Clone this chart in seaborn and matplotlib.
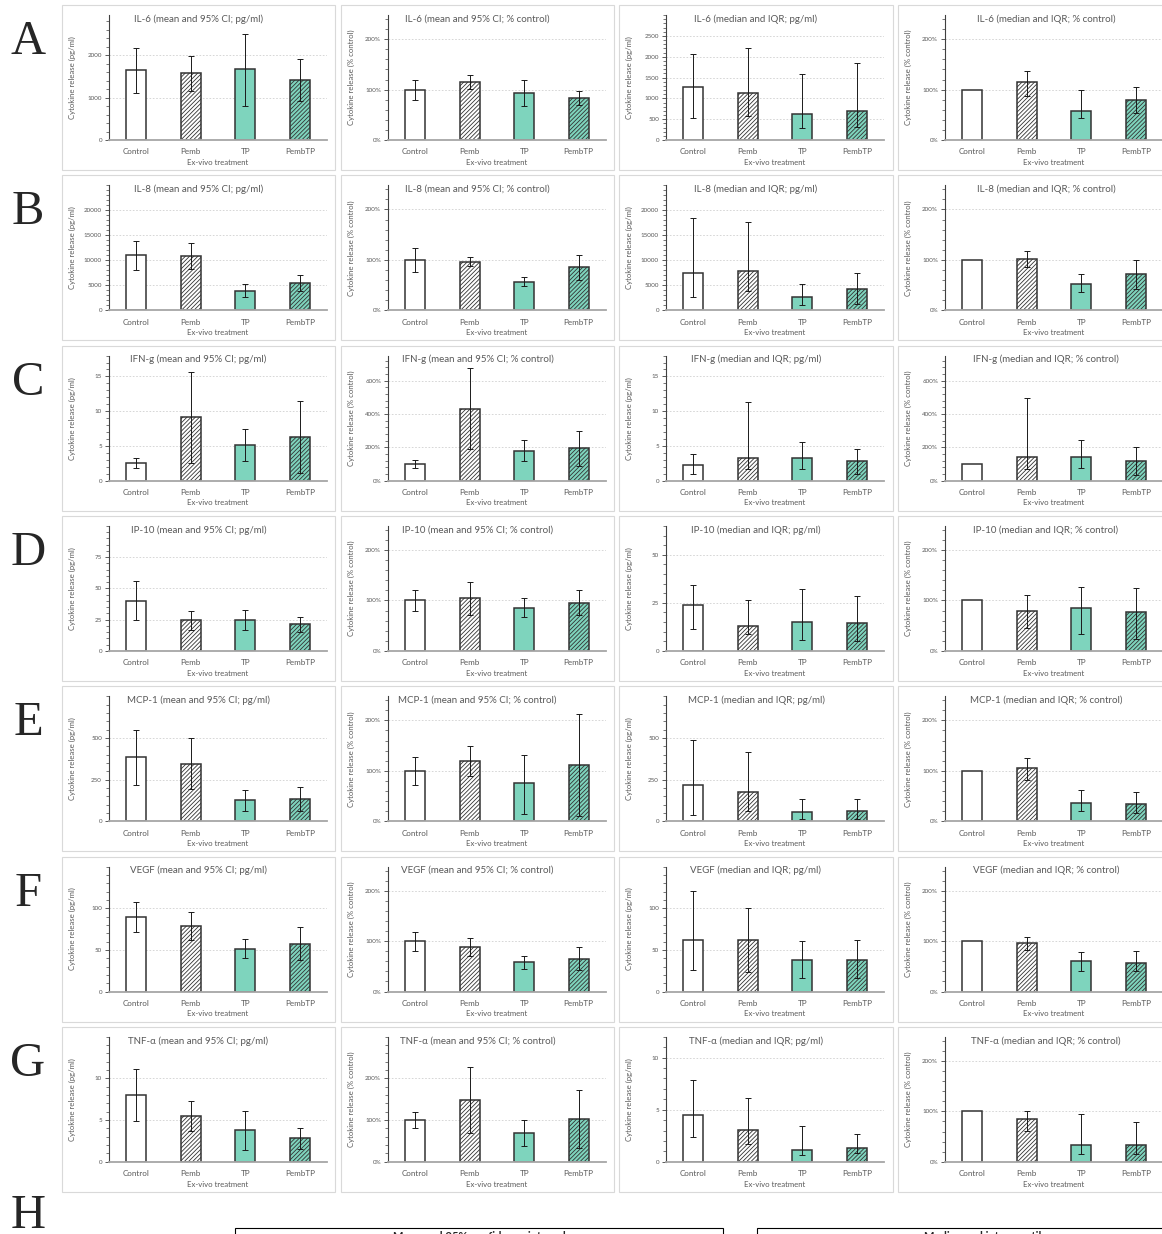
import numpy as np
import matplotlib
matplotlib.use("Agg")
import matplotlib.pyplot as plt
from matplotlib.patches import Rectangle
from matplotlib.ticker import AutoMinorLocator
import seaborn as sns

nan = float("nan")
treatments = ["Control", "Pemb", "TP", "PembTP"]

# each panel: [bar value, lower, upper]
il6_mean_pg = [[1650, 1580, 1680, 1420], [1100, 1150, 810, 920], [2180, 1990, 2500, 1900]]
il6_mean_pct = [[100, 115, 94, 84], [80, 102, 68, 70], [120, 128, 119, 97]]
il6_med_pg = [[1270, 1130, 620, 700], [520, 570, 280, 310], [2060, 2210, 1580, 1840]]
il6_med_pct = [[100, 115, 57, 80], [nan, 88, 44, 53], [nan, 136, 100, 105]]

il8_mean_pg = [[11000, 10800, 3900, 5400], [8100, 8200, 2600, 3900], [13800, 13400, 5200, 7000]]
il8_mean_pct = [[100, 96, 56, 85], [76, 88, 48, 60], [124, 105, 66, 109]]
il8_med_pg = [[7400, 7800, 2600, 4300], [2700, 3800, 1100, 1300], [18400, 17600, 5300, 7400]]
il8_med_pct = [[100, 102, 53, 73], [nan, 85, 36, 43], [nan, 117, 72, 99]]

ifng_mean_pg = [[2.5, 9.1, 5.1, 6.3], [1.8, 2.6, 2.8, 1.1], [3.3, 15.6, 7.5, 11.5]]
ifng_mean_pct = [[100, 432, 178, 195], [73, 190, 115, 88], [126, 675, 243, 297]]
ifng_med_pg = [[2.3, 3.3, 3.3, 2.8], [0.9, 1.6, 1.7, 0.9], [3.9, 11.3, 5.6, 4.6]]
ifng_med_pct = [[100, 142, 142, 120], [nan, 68, 73, 35], [nan, 495, 245, 202]]

ip10_mean_pg = [[40, 24.5, 24.5, 21.5], [25, 17, 17, 15.5], [56, 32, 33, 27.5]]
ip10_mean_pct = [[100, 104, 85, 95], [80, 72, 67, 71], [120, 137, 104, 120]]
ip10_med_pg = [[24, 13, 14.8, 14.5], [11.5, 9, 5.5, 5], [34.5, 26.5, 32, 28.5]]
ip10_med_pct = [[100, 79, 85, 78], [nan, 46, 34, 24], [nan, 110, 127, 124]]

mcp1_mean_pg = [[385, 345, 125, 135], [220, 195, 60, 63], [550, 497, 188, 208]]
mcp1_mean_pct = [[100, 120, 75, 111], [72, 89, 15, 10], [128, 150, 132, 212]]
mcp1_med_pg = [[215, 175, 58, 60], [38, 60, 15, 13], [485, 415, 135, 135]]
mcp1_med_pct = [[100, 105, 36, 34], [nan, 81, 20, 17], [nan, 125, 61, 58]]

vegf_mean_pg = [[89, 79, 51, 57], [71, 62, 40, 38], [107, 95, 63, 78]]
vegf_mean_pct = [[100, 89, 58, 65], [80, 70, 45, 42], [119, 107, 71, 88]]
vegf_med_pg = [[62, 62, 38, 38], [26, 23, 16, 16], [121, 100, 61, 62]]
vegf_med_pct = [[100, 96, 60, 57], [nan, 83, 40, 40], [nan, 109, 79, 81]]

tnfa_mean_pg = [[8.0, 5.5, 3.8, 2.8], [4.9, 3.7, 1.4, 1.5], [11.1, 7.3, 6.1, 4.1]]
tnfa_mean_pct = [[100, 148, 70, 102], [80, 68, 37, 32], [120, 228, 100, 172]]
tnfa_med_pg = [[4.5, 3.1, 1.1, 1.3], [2.4, 1.7, 0.7, 0.8], [7.9, 6.1, 3.4, 2.7]]
tnfa_med_pct = [[100, 84, 33, 33], [nan, 61, 16, 16], [nan, 100, 94, 78]]

pct_axis = ([0, 100, 200], 248)

# name, panel data, axis (ticks, top) for each panel
rows = [
    ("IL-6", [il6_mean_pg, il6_mean_pct, il6_med_pg, il6_med_pct],
     [([0, 1000, 2000], 2950), pct_axis, ([0, 500, 1000, 1500, 2000, 2500], 3000), pct_axis]),
    ("IL-8", [il8_mean_pg, il8_mean_pct, il8_med_pg, il8_med_pct],
     [([0, 5000, 10000, 15000, 20000], 25000), pct_axis, ([0, 5000, 10000, 15000, 20000], 25000), pct_axis]),
    ("IFN-g", [ifng_mean_pg, ifng_mean_pct, ifng_med_pg, ifng_med_pct],
     [([0, 5, 10, 15], 18), ([0, 200, 400, 600], 750), ([0, 5, 10, 15], 18), ([0, 200, 400, 600], 750)]),
    ("IP-10", [ip10_mean_pg, ip10_mean_pct, ip10_med_pg, ip10_med_pct],
     [([0, 25, 50, 75], 100), pct_axis, ([0, 25, 50], 65), pct_axis]),
    ("MCP-1", [mcp1_mean_pg, mcp1_mean_pct, mcp1_med_pg, mcp1_med_pct],
     [([0, 250, 500], 750), pct_axis, ([0, 250, 500], 750), pct_axis]),
    ("VEGF", [vegf_mean_pg, vegf_mean_pct, vegf_med_pg, vegf_med_pct],
     [([0, 50, 100], 150), pct_axis, ([0, 50, 100], 150), pct_axis]),
    ("TNF-α", [tnfa_mean_pg, tnfa_mean_pct, tnfa_med_pg, tnfa_med_pct],
     [([0, 5, 10], 15), ([0, 100, 200], 300), ([0, 5, 10], 12), pct_axis]),
]
letters = ["A", "B", "C", "D", "E", "F", "G"]
kinds = ["mean and 95% CI; pg/ml", "mean and 95% CI; % control",
         "median and IQR; pg/ml", "median and IQR; % control"]

sns.set_style("white")
plt.rcParams["font.family"] = ["Lato", "DejaVu Sans"]
plt.rcParams["hatch.linewidth"] = 0.6

teal = "#7ed4bd"
edge = "#333333"
grey = "#595959"
fills = ["white", "white", teal, teal]
hatches = ["", "////////", "", "////////"]

W, H = 1162, 1234
fig = plt.figure(figsize=(W / 100, H / 100), dpi=100)


def fx(px):
    return px / W


def fy(py):
    return 1 - py / H


col_left = [62, 341, 619, 898]
box_w = [273, 273, 274, 296]

for r, (name, panels, axes_spec) in enumerate(rows):
    top = 5 + r * 170.3
    fig.text(fx(28), fy(top + 37), letters[r], fontsize=35, family="Liberation Serif",
             ha="center", va="center")
    for c in range(4):
        left = col_left[c]
        fig.patches.append(Rectangle((fx(left), fy(top + 165)), fx(box_w[c]), 165 / H,
                                     transform=fig.transFigure, facecolor="white",
                                     edgecolor="#d9d9d9", lw=0.8, zorder=-1))
        ax = fig.add_axes([fx(left + 47), fy(top + 135), fx(218), 125 / H])
        ax.set_facecolor("none")
        vals, lo, hi = [np.array(a, dtype=float) for a in panels[c]]
        sns.barplot(x=treatments, y=vals, hue=treatments, palette=fills, ax=ax,
                    width=0.37, edgecolor=edge, linewidth=1.1, saturation=1, legend=False)
        for p, h in zip(ax.patches, hatches):
            p.set_hatch(h)
        ax.errorbar(np.arange(4), vals, yerr=[vals - lo, hi - vals], fmt="none",
                    ecolor="#1a1a1a", elinewidth=0.7, capsize=2, capthick=0.7)

        ticks, ytop = axes_spec[c]
        pct = c in (1, 3)
        ax.set_xlim(-0.5, 3.5)
        ax.set_ylim(0, ytop)
        ax.set_yticks(ticks)
        ax.set_yticklabels([f"{t}%" if pct else f"{t}" for t in ticks])
        ax.yaxis.set_minor_locator(AutoMinorLocator(5))
        ax.tick_params(axis="y", which="major", length=3, width=0.6, color="#404040",
                       labelsize=4.5, labelcolor=grey, pad=2, left=True)
        ax.tick_params(axis="y", which="minor", length=2, width=0.5, color="#404040", left=True)
        ax.tick_params(axis="x", length=0, labelsize=5.8, labelcolor=grey, pad=6)
        for s in ["top", "right"]:
            ax.spines[s].set_visible(False)
        ax.spines["left"].set_color("#404040")
        ax.spines["left"].set_linewidth(0.8)
        ax.spines["bottom"].set_color("#a6a6a6")
        ax.spines["bottom"].set_linewidth(1.3)
        ax.grid(axis="y", which="major", linestyle=(0, (2, 2)), color="#d0d0d0", lw=0.6)
        ax.set_axisbelow(True)

        ax.set_xlabel("Ex-vivo treatment", fontsize=5.6, color=grey, labelpad=2.5)
        ax.set_ylabel("Cytokine release (% control)" if pct else "Cytokine release (pg/ml)",
                      fontsize=5.6, color=grey)
        ax.yaxis.set_label_coords(-33 / 218, 0.5)

        fig.text(fx(left + box_w[c] / 2), fy(top + 14), f"{name} ({kinds[c]})",
                 fontsize=7.0, color=grey, ha="center", va="center")

# H row, mostly cut off at the bottom of the image
fig.text(fx(28), fy(1216), "H", fontsize=35, family="Liberation Serif", ha="center", va="center")
for x0, label in [(235, "Mean and 95% confidence interval"), (757, "Median and interquartile range")]:
    fig.patches.append(Rectangle((fx(x0), fy(1260)), fx(488), 32 / H, transform=fig.transFigure,
                                 facecolor="white", edgecolor="black", lw=0.8))
    fig.text(fx(x0 + 244), fy(1231), label, fontsize=8, weight="bold", ha="center", va="top")

fig.savefig("out.png", dpi=100)
